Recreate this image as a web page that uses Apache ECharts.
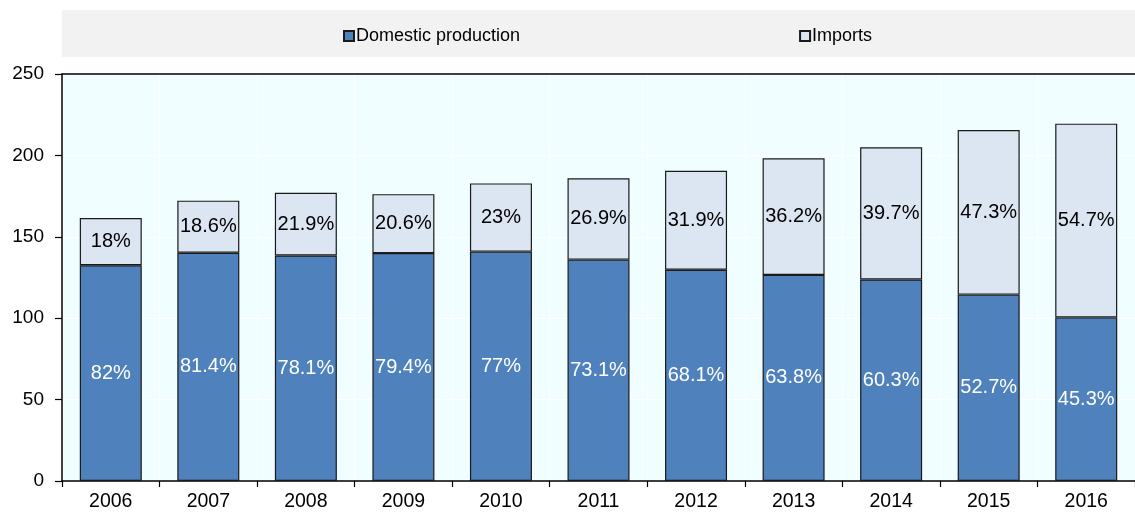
<!DOCTYPE html>
<html>
<head>
<meta charset="utf-8">
<script src="https://cdn.jsdelivr.net/npm/echarts@6/dist/echarts.min.js"></script>
<style>
html,body{margin:0;padding:0;background:#fff;}
#chart{width:1135px;height:514px;}
</style>
</head>
<body>
<div id="chart"></div>
<script>
const years = ['2006','2007','2008','2009','2010','2011','2012','2013','2014','2015','2016'];
const domestic = [132.5, 140.2, 138.5, 140.0, 140.9, 136.0, 129.8, 126.6, 123.8, 114.5, 100.5];
const imports = [29.0, 32.0, 38.6, 36.2, 41.9, 50.0, 60.8, 71.6, 81.2, 101.1, 119.0];
const domesticLabels = ['82%','81.4%','78.1%','79.4%','77%','73.1%','68.1%','63.8%','60.3%','52.7%','45.3%'];
const importLabels = ['18%','18.6%','21.9%','20.6%','23%','26.9%','31.9%','36.2%','39.7%','47.3%','54.7%'];
const yTicks = [0, 50, 100, 150, 200, 250];

const FONT = '"Liberation Sans", Arial, sans-serif';
const chart = echarts.init(document.getElementById('chart'), null, {renderer:'canvas'});
chart.setOption({
  animation: false,
  textStyle: {fontFamily: FONT},
  graphic: [{
    type: 'rect', left: 62, top: 10, z: -10,
    shape: {width: 1073, height: 47},
    style: {fill: '#F2F2F2'}
  }],
  legend: {
    left: 338, top: 22,
    itemWidth: 10, itemHeight: 10, itemGap: 279,
    icon: 'rect',
    textStyle: {fontFamily: FONT, fontSize: 18, color: '#000', padding: [0,0,0,-3]},
    data: ['Domestic production', 'Imports']
  },
  grid: {
    left: 62, right: 0, top: 74, bottom: 33,
    show: true, backgroundColor: '#F0FEFF', borderWidth: 0,
    containLabel: false
  },
  xAxis: [{
    type: 'category', data: years,
    boundaryGap: true,
    axisLine: {show: true, lineStyle: {color: '#000', width: 1.5}},
    axisTick: {show: true, length: 6, lineStyle: {color: '#000', width: 1.2}},
    axisLabel: {fontSize: 19.5, color: '#000', margin: 11, fontFamily: FONT},
    splitLine: {show: true, interval: 0, lineStyle: {color: '#FFFFFF', width: 1}}
  },{
    type: 'category', data: years, position: 'top',
    axisLine: {show: true, lineStyle: {color: '#000', width: 1.5}},
    axisTick: {show: false}, axisLabel: {show: false}, splitLine: {show: false}
  }],
  yAxis: {
    type: 'value', min: 0, max: 250, interval: 50,
    axisLine: {show: true, lineStyle: {color: '#000', width: 1.5}},
    axisTick: {show: true, length: 7, inside: false, lineStyle: {color: '#000', width: 1.2}},
    axisLabel: {fontSize: 19, color: '#000', margin: 18, fontFamily: FONT,
      formatter: v => yTicks.includes(v) ? String(v) : ''},
    splitLine: {show: true, lineStyle: {color: '#FFFFFF', width: 1}}
  },
  series: [{
    name: 'Domestic production', type: 'bar', stack: 'total',
    data: domestic, barWidth: 62,
    itemStyle: {color: '#4F81BD', borderColor: '#1A1A1A', borderWidth: 1.2},
    label: {show: true, position: 'inside', color: '#FFFFFF', fontSize: 20, fontFamily: FONT,
      formatter: p => domesticLabels[p.dataIndex]}
  },{
    name: 'Imports', type: 'bar', stack: 'total',
    data: imports, barWidth: 62,
    itemStyle: {color: '#DCE6F2', borderColor: '#1A1A1A', borderWidth: 1.2},
    label: {show: true, position: 'inside', color: '#000000', fontSize: 20, fontFamily: FONT,
      formatter: p => importLabels[p.dataIndex]}
  }]
});
</script>
</body>
</html>
